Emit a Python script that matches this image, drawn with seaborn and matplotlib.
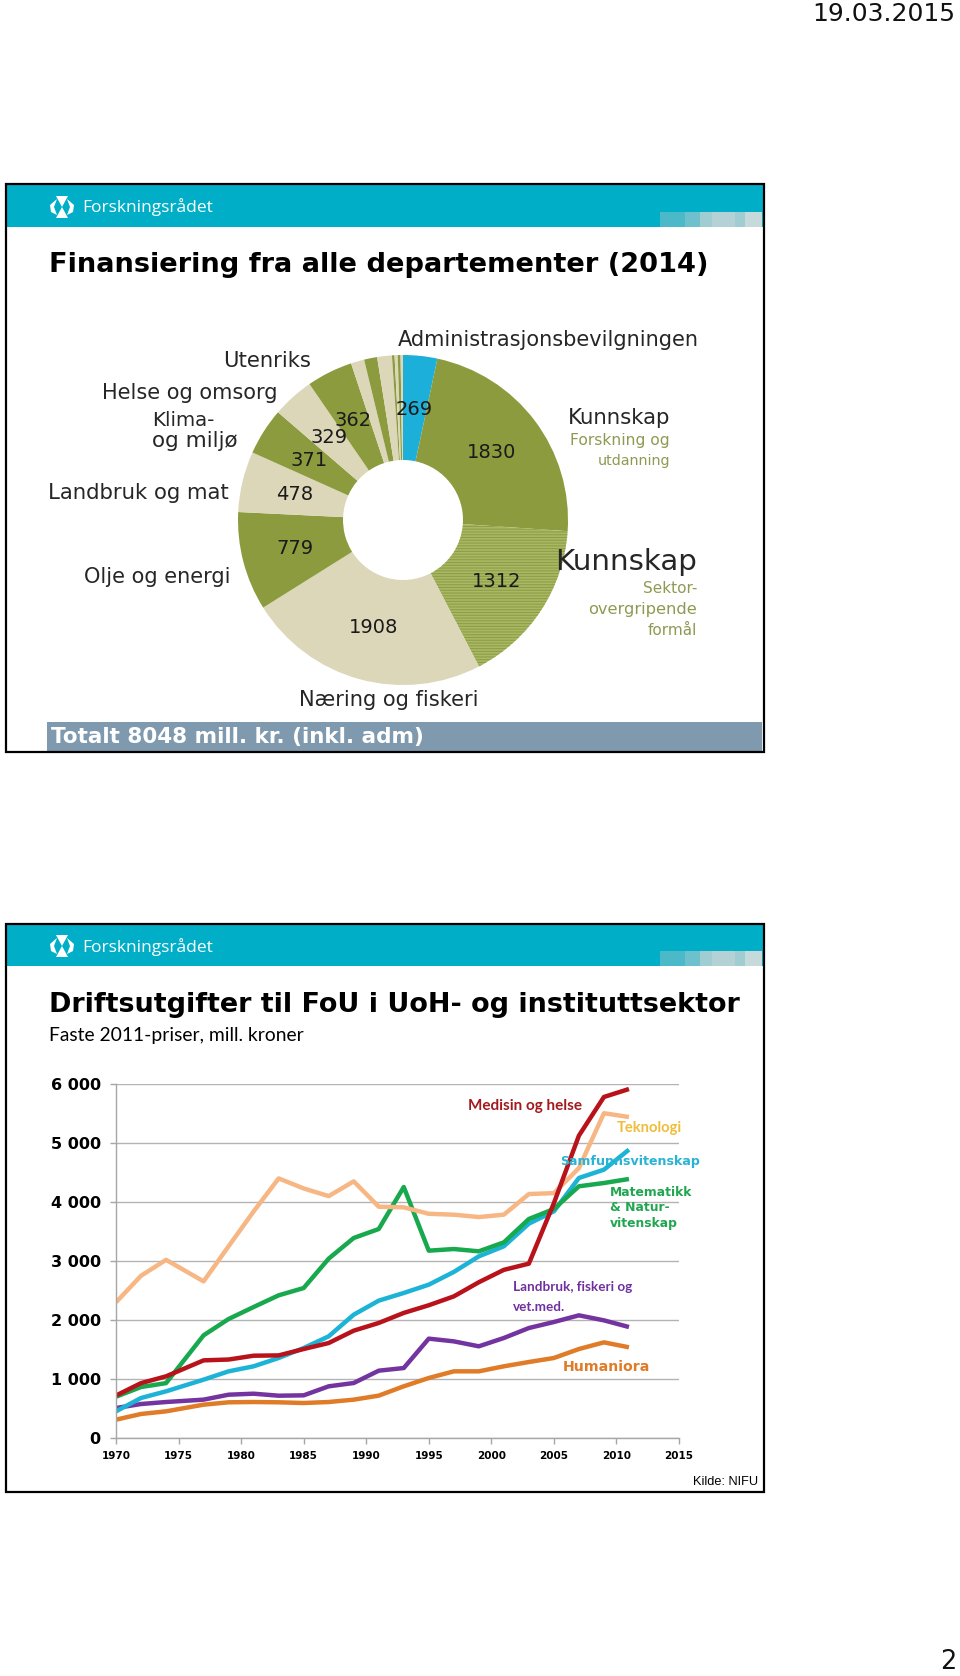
import numpy as np
import pandas as pd
import matplotlib
matplotlib.use("Agg")
import matplotlib.pyplot as plt
import seaborn as sns
from matplotlib.patches import Rectangle, Polygon

# ---------------- data ----------------
pie_names = ["Administrasjonsbevilgningen", "Kunnskap – forskning og utdanning",
             "Kunnskap – sektorovergripende", "Næring og fiskeri", "Olje og energi",
             "Landbruk og mat", "Andre 1", "Klima- og miljø", "Helse og omsorg",
             "Utenriks", "Andre 2", "Andre 3", "Andre 4", "Andre 5", "Andre 6", "Andre 7"]
pie_values = [269, 1830, 1312, 1908, 779, 478, 371, 329, 362, 105, 103, 116, 20, 25, 22, 19]
pie_kinds = ["adm", "green", "stripe", "beige", "green", "beige", "green", "beige", "green",
             "beige", "green", "beige", "green", "beige", "green", "beige"]
pie_shown = [True] * 9 + [False] * 7

years = [1970, 1972, 1974, 1977, 1979, 1981, 1983, 1985, 1987, 1989, 1991,
         1993, 1995, 1997, 1999, 2001, 2003, 2005, 2007, 2009, 2011]
medisin = [720, 930, 1045, 1316, 1330, 1395, 1400, 1508, 1610, 1819, 1950,
           2120, 2250, 2400, 2640, 2850, 2955, 3980, 5125, 5780, 5915]
teknologi = [2300, 2750, 3020, 2655, 3250, 3840, 4400, 4230, 4100, 4350, 3920,
             3910, 3800, 3785, 3745, 3785, 4135, 4150, 4575, 5505, 5440]
samfunn = [452, 678, 791, 989, 1130, 1215, 1356, 1525, 1723, 2090, 2328,
           2458, 2599, 2814, 3079, 3249, 3633, 3842, 4407, 4548, 4887]
matnat = [700, 864, 930, 1740, 2017, 2220, 2418, 2542, 3040, 3390, 3542,
          4254, 3175, 3203, 3164, 3316, 3712, 3881, 4266, 4322, 4390]
landbruk = [508, 576, 610, 650, 734, 751, 717, 723, 876, 932, 1141,
            1186, 1684, 1638, 1554, 1695, 1864, 1966, 2079, 1994, 1881]
humaniora = [311, 407, 452, 565, 605, 610, 605, 593, 610, 650, 718,
             876, 1017, 1130, 1130, 1215, 1288, 1356, 1508, 1621, 1537]
y_ticks = [0, 1000, 2000, 3000, 4000, 5000, 6000]
y_ticklabels = ["0", "1 000", "2 000", "3 000", "4 000", "5 000", "6 000"]
x_ticks = [1970, 1975, 1980, 1985, 1990, 1995, 2000, 2005, 2010, 2015]

# ---------------- style ----------------
sns.set_theme(style="white")
plt.rcParams["font.family"] = ["DejaVu Sans"]
plt.rcParams["hatch.linewidth"] = 0.8

W, H, DPI = 960, 1676, 100
fig = plt.figure(figsize=(W / DPI, H / DPI), dpi=DPI)
fig.patch.set_facecolor("white")

GREEN = "#8c9b3e"
BEIGE = "#dcd7b9"
CYAN = "#1bafd9"
TEAL = "#00afc7"
OLIVE_TXT = "#8d9b52"

bg = fig.add_axes([0, 0, 1, 1])
bg.set_xlim(0, W)
bg.set_ylim(H, 0)
bg.axis("off")


def slide(top, bottom, band_bottom):
    bg.add_patch(Rectangle((7, top), 756, band_bottom - top, color=TEAL, lw=0, zorder=1))
    cols = [(660, 685, "#4cb9c9"), (685, 700, "#6ec0cc"), (700, 712, "#9fcdd2"),
            (712, 735, "#b4d2d5"), (735, 745, "#9fcdd2"), (745, 762, "#c6dadc")]
    for x0, x1, c in cols:
        bg.add_patch(Rectangle((x0, band_bottom - 15), x1 - x0, 15, color=c, lw=0, zorder=1.5))
    bg.add_patch(Rectangle((6, top - 1), 758, bottom - top + 1, fill=False,
                           edgecolor="black", lw=1.6, zorder=3))
    # logo icon
    cx, cy = 62, band_bottom - 20
    w = "white"
    bg.add_patch(Polygon([(cx - 6, cy - 11), (cx + 6, cy - 11), (cx, cy)], color=w, lw=0, zorder=2))
    bg.add_patch(Polygon([(cx, cy), (cx - 6, cy + 11), (cx + 6, cy + 11)], color=w, lw=0, zorder=2))
    bg.add_patch(Polygon([(cx - 5, cy - 8), (cx - 12, cy - 2), (cx - 11, cy + 5), (cx - 5, cy + 8),
                          (cx - 8, cy)], color=w, lw=0, zorder=2))
    bg.add_patch(Polygon([(cx + 5, cy - 8), (cx + 12, cy - 2), (cx + 11, cy + 5), (cx + 5, cy + 8),
                          (cx + 8, cy)], color=w, lw=0, zorder=2))


slide(185, 752, 227)
slide(925, 1492, 966)
# gray total bar
bg.add_patch(Rectangle((47, 722), 715, 30, color="#7f9aae", lw=0, zorder=2))

# ---------------- pie ----------------
CX, CY, R = 403, 520, 165
pax = fig.add_axes([(CX - R) / W, (H - (CY + R)) / H, 2 * R / W, 2 * R / H])
colmap = {"adm": CYAN, "green": GREEN, "stripe": "#a9b963", "beige": BEIGE}
wedges, _ = pax.pie(pie_values, colors=[colmap[k] for k in pie_kinds], startangle=90,
                    counterclock=False, radius=1,
                    wedgeprops=dict(width=1 - 60 / 165, linewidth=0))
for wdg, k in zip(wedges, pie_kinds):
    if k == "stripe":
        wdg.set_hatch("------")
        wdg.set_edgecolor("#8e9e48")
        wdg.set_linewidth(0)
pax.set_xlim(-1, 1)
pax.set_ylim(-1, 1)
pax.set_aspect("auto")
pax.axis("off")
total = sum(pie_values)
cum = np.cumsum([0] + pie_values)
for i, (v, show) in enumerate(zip(pie_values, pie_shown)):
    if not show:
        continue
    mid = (cum[i] + cum[i + 1]) / 2 / total * 2 * np.pi
    r = 0.675
    pax.text(r * np.sin(mid), r * np.cos(mid), str(v), ha="center", va="center",
             fontsize=14, color="#1a1a1a")

# ---------------- line chart ----------------
X0, X1, Y0, Y1 = 116, 679, 1438, 1084
lax = fig.add_axes([X0 / W, (H - Y0) / H, (X1 - X0) / W, (Y0 - Y1) / H])
series = {"Humaniora": humaniora, "Landbruk, fiskeri og vet.med.": landbruk,
          "Samfunnsvitenskap": samfunn, "Matematikk & Naturvitenskap": matnat,
          "Teknologi": teknologi, "Medisin og helse": medisin}
palette = {"Humaniora": "#e07b28", "Landbruk, fiskeri og vet.med.": "#7434a0",
           "Samfunnsvitenskap": "#1cb3d6", "Matematikk & Naturvitenskap": "#18a84d",
           "Teknologi": "#f7b784", "Medisin og helse": "#b8121a"}
df = pd.DataFrame([{"År": y, "Mill. kr": v, "Fagområde": k}
                   for k, vals in series.items() for y, v in zip(years, vals)])
sns.lineplot(data=df, x="År", y="Mill. kr", hue="Fagområde", hue_order=list(series.keys()),
             palette=palette, linewidth=3.2, legend=False, ax=lax,
             solid_joinstyle="round", solid_capstyle="butt")
lax.set_xlim(1970, 2015)
lax.set_ylim(0, 6000)
lax.set_yticks(y_ticks)
lax.set_yticklabels(y_ticklabels, fontsize=11.5, fontweight="bold", color="black")
lax.set_xticks(x_ticks)
lax.set_xticklabels([str(x) for x in x_ticks], fontsize=7.5, fontweight="bold", color="black")
lax.set_xlabel("")
lax.set_ylabel("")
lax.grid(axis="y", color="#b3b3b3", lw=1)
lax.grid(axis="x", visible=False)
lax.set_axisbelow(True)
for s in ["top", "right"]:
    lax.spines[s].set_visible(False)
for s in ["left", "bottom"]:
    lax.spines[s].set_color("#a6a6a6")
    lax.spines[s].set_linewidth(1)
lax.tick_params(axis="y", length=4, width=1, color="#a6a6a6", pad=7, left=True)
lax.tick_params(axis="x", length=4, width=1, color="#a6a6a6", pad=5, bottom=True)
lax.patch.set_alpha(0)

# ---------------- texts (top overlay) ----------------
top = fig.add_axes([0, 0, 1, 1])
top.set_xlim(0, W)
top.set_ylim(H, 0)
top.axis("off")
top.patch.set_alpha(0)
renderer = fig.canvas.get_renderer()


def T(x, y, s, width=None, size=12, ha="left", va="center", **kw):
    t = top.text(x, y, s, ha=ha, va=va, fontsize=size, **kw)
    if width is not None:
        for _ in range(2):
            w = t.get_window_extent(renderer).width
            t.set_fontsize(t.get_fontsize() * width / w)
    return t


T(955, 14, "19.03.2015", width=143, size=18, ha="right", color="#111111")
T(957, 1662, "2", size=18.5, ha="right", color="#111111")

for yb in (207, 947):
    T(82, yb, "Forskningsrådet", width=131, size=13, family=["Open Sans", "DejaVu Sans"],
      color="white")

T(49, 265, "Finansiering fra alle departementer (2014)", width=659, size=17,
  fontweight="bold", color="black")
T(51, 737, "Totalt 8048 mill. kr. (inkl. adm)", width=374, size=13, fontweight="bold",
  color="white")

# pie outside labels
T(311, 361, "Utenriks", width=88, size=14, ha="right")
T(277, 393, "Helse og omsorg", width=175, size=14, ha="right")
T(152, 420, "Klima-", size=14.2)
T(152, 441, "og miljø", width=85, size=14)
T(229, 493, "Landbruk og mat", width=181, size=14, ha="right")
T(230, 577, "Olje og energi", width=147, size=14, ha="right")
T(398, 340, "Administrasjonsbevilgningen", width=301, size=14)
T(670, 418, "Kunnskap", width=102, size=14, ha="right")
T(670, 440, "Forskning og", width=100, size=10.5, ha="right", color=OLIVE_TXT)
T(670, 461, "utdanning", width=73, size=10.5, ha="right", color=OLIVE_TXT)
T(697, 562, "Kunnskap", width=142, size=19, ha="right")
T(697, 588, "Sektor-", size=11, ha="right", color=OLIVE_TXT)
T(697, 609, "overgripende", width=109, size=11, ha="right", color=OLIVE_TXT)
T(697, 630, "formål", size=11, ha="right", color=OLIVE_TXT)
T(389, 700, "Næring og fiskeri", width=180, size=14, ha="center")

# slide 2 texts
T(49, 1005, "Driftsutgifter til FoU i UoH- og instituttsektor", width=692, size=17,
  fontweight="bold", color="black")
T(49, 1035, "Faste 2011-priser, mill. kroner", width=254, size=12,
  family=["Lato", "DejaVu Sans"], color="black")

LATO = ["Lato", "DejaVu Sans"]
T(468, 1106, "Medisin og helse", width=115, size=10, family=LATO, fontweight="bold",
  color="#a31a1e")
T(617, 1128, "Teknologi", width=65, size=10, family=LATO, fontweight="bold", color="#f0bd3a")
T(560, 1161, "Samfunnsvitenskap", width=140, size=9, fontweight="bold", color="#2bb3d4")
t = T(610, 1192, "Matematikk", width=83, size=9, fontweight="bold", color="#21a650")
fs = t.get_fontsize()
T(610, 1207, "& Natur-", size=fs, fontweight="bold", color="#21a650")
T(610, 1223, "vitenskap", size=fs, fontweight="bold", color="#21a650")
t = T(513, 1287, "Landbruk, fiskeri og", width=119, size=9, family=LATO, fontweight="bold",
      color="#7030a0")
T(513, 1307, "vet.med.", size=t.get_fontsize(), family=LATO, fontweight="bold", color="#7030a0")
T(563, 1367, "Humaniora", width=88, size=10, fontweight="bold", color="#e07b28")
T(758, 1482, "Kilde: NIFU", width=65, size=8.5, ha="right",
  family=["Liberation Sans", "DejaVu Sans"], color="black")

fig.savefig("out.png", dpi=DPI, facecolor="white")
